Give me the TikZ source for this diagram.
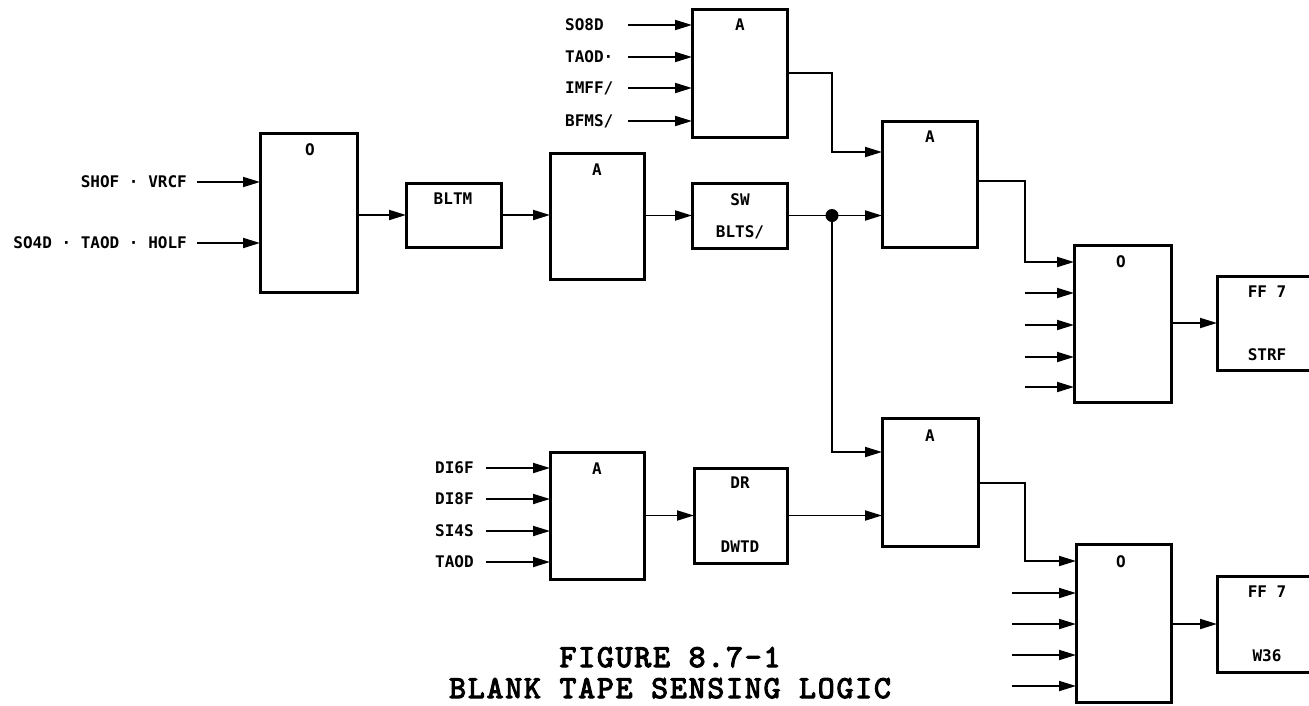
\documentclass[tikz,border=0pt]{standalone}
\usepackage{fontspec}
\usetikzlibrary{arrows.meta}
\newfontfamily\labfont{DejaVu Sans Mono}
\newfontfamily\capfont{lmmono10-regular.otf}[FakeBold=3.5,LetterSpace=6]
\tikzset{
  gate/.style={draw, line width=3pt, rectangle, inner sep=0pt, outer sep=0pt, anchor=north west},
  wire/.style={line width=1.9pt},
  arr/.style={-{Triangle[length=17pt,width=10pt]}},
  lbl/.style={font=\labfont\bfseries\fontsize{16}{16}\selectfont, inner sep=0pt, text height=11pt, text depth=0pt},
  jdot/.style={circle, fill, inner sep=0pt, minimum size=13pt},
  capt/.style={font=\capfont\fontsize{32}{31}\selectfont, inner sep=0pt, align=center}
}
\begin{document}
\begin{tikzpicture}[x=1pt,y=-1pt]
\useasboundingbox (0,0) rectangle (1309,705);
% boxes
\node[gate, minimum width=97pt, minimum height=159pt] (o1) at (260,133) {};
\node[gate, minimum width=95pt, minimum height=64pt] (bltm) at (406,183) {};
\node[gate, minimum width=94pt, minimum height=126pt] (a2) at (550,153) {};
\node[gate, minimum width=95pt, minimum height=65pt] (sw) at (692,183) {};
\node[gate, minimum width=95pt, minimum height=128pt] (a1) at (692,9) {};
\node[gate, minimum width=95pt, minimum height=126pt] (a3) at (882,121) {};
\node[gate, minimum width=97pt, minimum height=157pt] (o2) at (1074,245) {};
\node[gate, minimum width=100pt, minimum height=94pt] (ff1) at (1217,276) {};
\node[gate, minimum width=96pt, minimum height=128pt] (a4) at (882,418) {};
\node[gate, minimum width=95pt, minimum height=158pt] (o3) at (1076,544) {};
\node[gate, minimum width=100pt, minimum height=96pt] (ff2) at (1217,576) {};
\node[gate, minimum width=94pt, minimum height=127pt] (a5) at (550,452) {};
\node[gate, minimum width=93pt, minimum height=95pt] (dr) at (694,468) {};
% box texts
\node[lbl] (o1t) at (310,150) {O};
\node[lbl] (bltmt) at (453,199) {BLTM};
\node[lbl] (a2t) at (597,170) {A};
\node[lbl] (swt) at (740,200) {SW};
\node[lbl] (swb) at (740,232) {BLTS/};
\node[lbl] (a1t) at (740,25) {A};
\node[lbl] (a3t) at (930,137) {A};
\node[lbl] (o2t) at (1121,262) {O};
\node[lbl] (ff1t) at (1267,292) {FF 7};
\node[lbl] (ff1b) at (1267,355) {STRF};
\node[lbl] (a4t) at (930,436) {A};
\node[lbl] (o3t) at (1121,562) {O};
\node[lbl] (ff2t) at (1267,592) {FF 7};
\node[lbl] (ff2b) at (1267,656) {W36};
\node[lbl] (a5t) at (597,469) {A};
\node[lbl] (drt) at (740,483) {DR};
\node[lbl] (drb) at (740,547) {DWTD};
% input labels
\node[lbl, anchor=east] (l1) at (187,182) {SHOF · VRCF};
\node[lbl, anchor=east] (l2) at (187,243) {SO4D · TAOD · HOLF};
\node[lbl, anchor=west] (t1) at (565,25) {SO8D};
\node[lbl, anchor=west] (t2) at (565,57) {TAOD·};
\node[lbl, anchor=west] (t3) at (565,88) {IMFF/};
\node[lbl, anchor=west] (t4) at (565,121) {BFMS/};
\node[lbl, anchor=west] (d1) at (435,468) {DI6F};
\node[lbl, anchor=west] (d2) at (435,499) {DI8F};
\node[lbl, anchor=west] (d3) at (435,531) {SI4S};
\node[lbl, anchor=west] (d4) at (435,562) {TAOD};
% input start points
\coordinate (i1) at (197,182);
\coordinate (i2) at (197,243);
\coordinate (s1) at (628,25);
\coordinate (s2) at (628,57);
\coordinate (s3) at (628,88);
\coordinate (s4) at (628,121);
\coordinate (e1) at (486,468);
\coordinate (e2) at (486,499);
\coordinate (e3) at (486,531);
\coordinate (e4) at (486,562);
\coordinate (p1) at (1025,293);
\coordinate (p2) at (1025,325);
\coordinate (p3) at (1025,357);
\coordinate (p4) at (1025,387);
\coordinate (q1) at (1012,593);
\coordinate (q2) at (1012,624);
\coordinate (q3) at (1012,655);
\coordinate (q4) at (1012,686);
\coordinate (b1) at (1025,262);
\coordinate (b2) at (1025,561);
\node[jdot] (dot) at (832,215.5) {};
% wires
\foreach \c in {i1,i2} \draw[wire,arr] (\c) -- (\c -| o1.west);
\foreach \c in {s1,s2,s3,s4} \draw[wire,arr] (\c) -- (\c -| a1.west);
\foreach \c in {e1,e2,e3,e4} \draw[wire,arr] (\c) -- (\c -| a5.west);
\foreach \c in {p1,p2,p3,p4} \draw[wire,arr] (\c) -- (\c -| o2.west);
\foreach \c in {q1,q2,q3,q4} \draw[wire,arr] (\c) -- (\c -| o3.west);
\draw[wire,arr] (o1.east |- bltm.west) -- (bltm.west);
\draw[wire,arr] (bltm.east) -- (bltm.east -| a2.west);
\draw[wire,arr] (sw.west -| a2.east) -- (sw.west);
\draw[wire] (sw.east) -- (dot.center);
\draw[wire,arr] (dot.center) -- (dot.center -| a3.west);
\draw[wire,arr] (dot.center) -- (dot.center |- 0,452) -- (a4.west |- 0,452);
\draw[wire,arr] (a1.east) -- (a1.east -| dot.center) -- (dot.center |- 0,152) -- (a3.west |- 0,152);
\draw[wire,arr] (a3.east |- 0,181) -| (b1) -- (b1 -| o2.west);
\draw[wire,arr] (ff1.west -| o2.east) -- (ff1.west);
\draw[wire,arr] (a4.east |- 0,483) -| (b2) -- (b2 -| o3.west);
\draw[wire,arr] (ff2.west -| o3.east) -- (ff2.west);
\draw[wire,arr] (dr.west -| a5.east) -- (dr.west);
\draw[wire,arr] (dr.east) -- (dr.east -| a4.west);
% caption
\node[capt, anchor=base] (cap) at (670,698) {FIGURE 8.7-1\\BLANK TAPE SENSING LOGIC};
\end{tikzpicture}
\end{document}
